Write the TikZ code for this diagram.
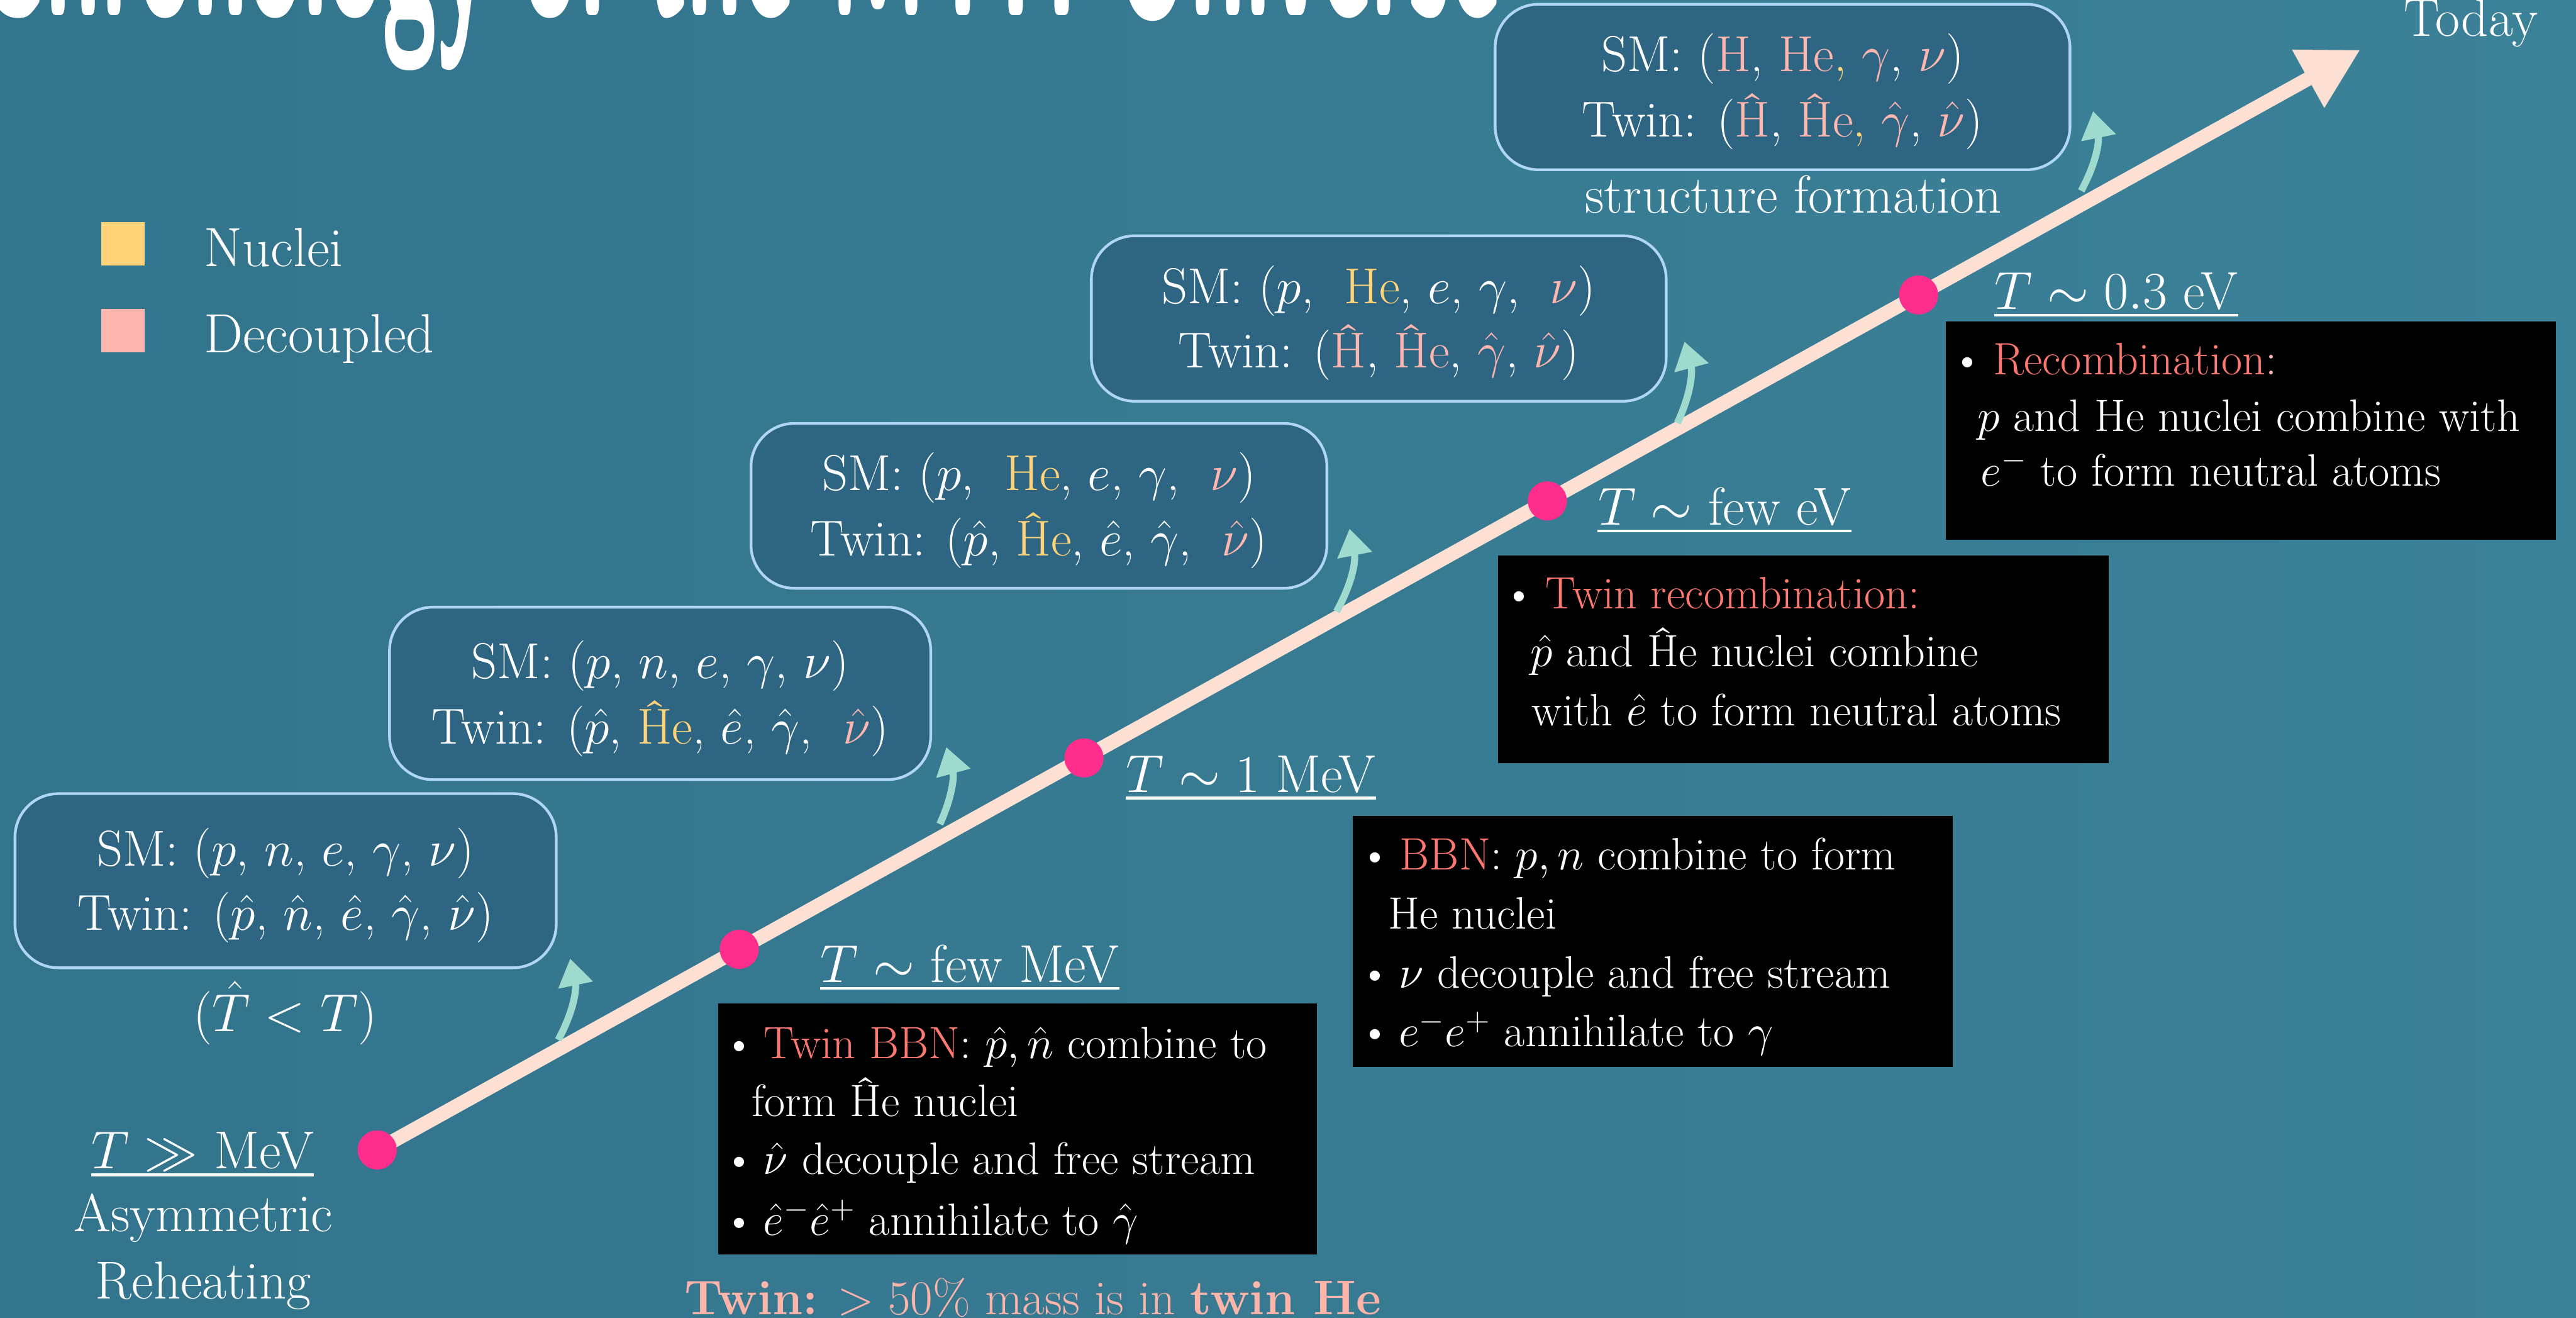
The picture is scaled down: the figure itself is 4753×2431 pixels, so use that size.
\RequirePackage{fix-cm}
\documentclass[tikz,border=0pt]{standalone}
\usetikzlibrary{arrows.meta}
\definecolor{bgA}{RGB}{51,116,141}
\definecolor{bgB}{RGB}{59,129,152}
\definecolor{boxfill}{RGB}{45,101,130}
\definecolor{boxline}{RGB}{175,215,245}
\definecolor{arrowc}{RGB}{253,224,212}
\definecolor{dotpink}{RGB}{255,45,140}
\definecolor{chalkteal}{RGB}{158,218,205}
\definecolor{nuc}{RGB}{255,212,121}
\definecolor{dec}{RGB}{255,182,174}
\definecolor{sal}{RGB}{255,120,112}
\definecolor{foot}{RGB}{255,180,170}
\begin{document}
\begin{tikzpicture}[x=0.01cm,y=-0.01cm,
  rbox/.style={draw=boxline, line width=0.05cm, fill=boxfill, rounded corners=0.8cm, inner sep=0},
  blk/.style={fill=black, inner sep=0},
  tdot/.style={circle, fill=dotpink, minimum size=0.72cm, inner sep=0},
  chalk/.style={draw=chalkteal, line width=0.13cm, -{Triangle[length=0.5cm,width=0.62cm]}},
  boxtxt/.style={text=white, font=\fontsize{26.5}{32}\selectfont, anchor=base, inner sep=0},
  blktxt/.style={text=white, font=\fontsize{23.8}{28}\selectfont, anchor=base west, inner sep=0},
  bul/.style={text=white, font=\fontsize{23.8}{28}\selectfont, anchor=base, inner sep=0},
  lbl/.style={text=white, font=\fontsize{28}{34}\selectfont, anchor=base, inner sep=0},
  lgd/.style={text=white, font=\fontsize{29}{34}\selectfont, anchor=base west, inner sep=0},
  uline/.style={draw=white, line width=0.05cm}
]
\useasboundingbox (0,0) rectangle (4753,2431);
\shade[left color=bgA, right color=bgB] (0,0) rectangle (4753,2431);

% title (mostly cut off at the top)
\node[anchor=base west, inner sep=0, text=white, font=\sffamily\bfseries\fontsize{52}{60}\selectfont] (title) at (-45,28) {\scalebox{1}[2.7]{Chronology of the MTH Universe}};

% legend
\node[fill=nuc, minimum size=0.8cm, inner sep=0] (sqN) at (227,450) {};
\node[fill=dec, minimum size=0.8cm, inner sep=0] (sqD) at (227,610) {};
\node[lgd] (tN) at (376,491) {Nuclei};
\node[lgd] (tD) at (376,650) {Decoupled};

% main time arrow
\coordinate (p1) at (696,2121);
\coordinate (tip) at (4355,92);
\draw[line width=0.26cm, arrowc, -{Triangle[length=1.1cm,width=1.15cm]}] (p1) -- (tip);
\node[tdot] (d1) at (p1) {};
\node[tdot] (d2) at (1364,1751) {};
\node[tdot] (d3) at (2000,1398) {};
\node[tdot] (d4) at (2855,924) {};
\node[tdot] (d5) at (3540,544) {};

% rounded state boxes
\node[rbox, minimum width=9.98cm, minimum height=3.21cm] (b1) at (527,1624.5) {};
\node[rbox, minimum width=9.98cm, minimum height=3.18cm] (b2) at (1218,1279) {};
\node[rbox, minimum width=10.62cm, minimum height=3.04cm] (b3) at (1917,933) {};
\node[rbox, minimum width=10.60cm, minimum height=3.05cm] (b4) at (2544,587.5) {};
\node[rbox, minimum width=10.60cm, minimum height=3.05cm] (b5) at (3289,160.5) {};

\node[boxtxt] (b1s) at (527,1597) {SM: ($p$, $n$, $e$, $\gamma$, $\nu$)};
\node[boxtxt] (b1t) at (527,1716) {Twin: ($\hat p$, $\hat n$, $\hat e$, $\hat\gamma$, $\hat\nu$)};
\node[boxtxt] (b2s) at (1218,1252) {SM: ($p$, $n$, $e$, $\gamma$, $\nu$)};
\node[boxtxt] (b2t) at (1218,1372) {Twin: ($\hat p$, {\color{nuc}\^He}, $\hat e$, $\hat\gamma$, \ {\color{dec}$\hat\nu$})};
\node[boxtxt] (b3s) at (1917,905) {SM: ($p$, \ {\color{nuc}He}, $e$, $\gamma$, \ {\color{dec}$\nu$})};
\node[boxtxt] (b3t) at (1917,1025) {Twin: ($\hat p$, {\color{nuc}\^He}, $\hat e$, $\hat\gamma$, \ {\color{dec}$\hat\nu$})};
\node[boxtxt] (b4s) at (2544,560) {SM: ($p$, \ {\color{nuc}He}, $e$, $\gamma$, \ {\color{dec}$\nu$})};
\node[boxtxt] (b4t) at (2544,678) {Twin: ({\color{dec}\^H}, {\color{dec}\^He}, {\color{dec}$\hat\gamma$}, {\color{dec}$\hat\nu$})};
\node[boxtxt] (b5s) at (3289,132) {SM: ({\color{dec}H}, {\color{dec}He}{\color{nuc},} {\color{dec}$\gamma$}, {\color{dec}$\nu$})};
\node[boxtxt] (b5t) at (3289,252) {Twin: ({\color{dec}\^H}, {\color{dec}\^He}{\color{nuc},} {\color{dec}$\hat\gamma$}, {\color{dec}$\hat\nu$})};

% chalk arrows from the time line to the boxes
\coordinate (c1a) at (1030,1918); \coordinate (c1b) at (1052,1768);
\coordinate (c2a) at (1734,1520); \coordinate (c2b) at (1746,1378);
\coordinate (c3a) at (2466,1128); \coordinate (c3b) at (2490,975);
\coordinate (c4a) at (3095,780);  \coordinate (c4b) at (3108,630);
\coordinate (c5a) at (3840,352);  \coordinate (c5b) at (3862,205);
\draw[chalk] (c1a) to[bend right=20] (c1b);
\draw[chalk] (c2a) to[bend right=20] (c2b);
\draw[chalk] (c3a) to[bend right=20] (c3b);
\draw[chalk] (c4a) to[bend right=20] (c4b);
\draw[chalk] (c5a) to[bend right=20] (c5b);

% temperature labels
\node[lbl] (lt1) at (374,2156) {$T\gg$ MeV};
\node[lbl] (lt2) at (1789,1812) {$T\sim$ few MeV};
\node[lbl] (lt3) at (2308,1461) {$T\sim 1$ MeV};
\node[lbl] (lt4) at (3182,968) {$T\sim$ few eV};
\node[lbl] (lt5) at (3905,570) {$T\sim 0.3$ eV};
\foreach \n in {lt1,lt2,lt3,lt4,lt5}
  \draw[uline] ([yshift=-0.11cm]\n.base west) -- ([yshift=-0.11cm]\n.base east);

\node[lbl] (that) at (526,1903) {($\hat T<T$)};
\node[lbl] (asy) at (375,2271) {Asymmetric};
\node[lbl] (reh) at (375,2396) {Reheating};
\node[lbl] (sf) at (3309,393) {structure formation};
\node[lbl, anchor=base west] (today) at (4435,67) {Today};

% black info boxes
\node[blk, minimum width=11.05cm, minimum height=4.63cm] (kA) at (1877.5,2082.5) {};
\node[blk, minimum width=11.07cm, minimum height=4.63cm] (kB) at (3049.5,1736.5) {};
\node[blk, minimum width=11.26cm, minimum height=3.83cm] (kC) at (3327,1216.5) {};
\node[blk, minimum width=11.26cm, minimum height=4.03cm] (kD) at (4153,794.5) {};

% box A
\node[bul] (kAb1) at (1364,1952) {\textbullet};
\node[blktxt] (kA1) at (1409,1952) {{\color{sal}Twin BBN}: $\hat p,\hat n$ combine to};
\node[blktxt] (kA2) at (1387,2059) {form \^He nuclei};
\node[bul] (kAb3) at (1364,2166) {\textbullet};
\node[blktxt] (kA3) at (1408,2166) {$\hat\nu$ decouple and free stream};
\node[bul] (kAb4) at (1364,2278) {\textbullet};
\node[blktxt] (kA4) at (1408,2278) {$\hat e^-\hat e^+$ annihilate to $\hat\gamma$};

% box B
\node[bul] (kBb1) at (2537,1604) {\textbullet};
\node[blktxt] (kB1) at (2582,1604) {{\color{sal}BBN}: $p,n$ combine to form};
\node[blktxt] (kB2) at (2561,1713) {He nuclei};
\node[bul] (kBb3) at (2537,1822) {\textbullet};
\node[blktxt] (kB3) at (2580,1822) {$\nu$ decouple and free stream};
\node[bul] (kBb4) at (2537,1930) {\textbullet};
\node[blktxt] (kB4) at (2580,1930) {$e^-e^+$ annihilate to $\gamma$};

% box C
\node[bul] (kCb1) at (2803,1123) {\textbullet};
\node[blktxt] (kC1) at (2851,1123) {{\color{sal}Twin recombination:}};
\node[blktxt] (kC2) at (2823,1230) {$\hat p$ and \^He nuclei combine};
\node[blktxt] (kC3) at (2826,1338) {with $\hat e$ to form neutral atoms};

% box D
\node[bul] (kDb1) at (3630,691) {\textbullet};
\node[blktxt] (kD1) at (3677,691) {{\color{sal}Recombination}{\color{dec}:}};
\node[blktxt] (kD2) at (3648,795) {$p$ and He nuclei combine with};
\node[blktxt] (kD3) at (3654,896) {$e^-$ to form neutral atoms};

% footer
\node[anchor=base west, inner sep=0, text=foot, font=\fontsize{25.5}{30}\selectfont] (foot) at (1262,2425) {{\bfseries Twin:} $>50\%$ mass is in {\bfseries twin He}};
\end{tikzpicture}
\end{document}
